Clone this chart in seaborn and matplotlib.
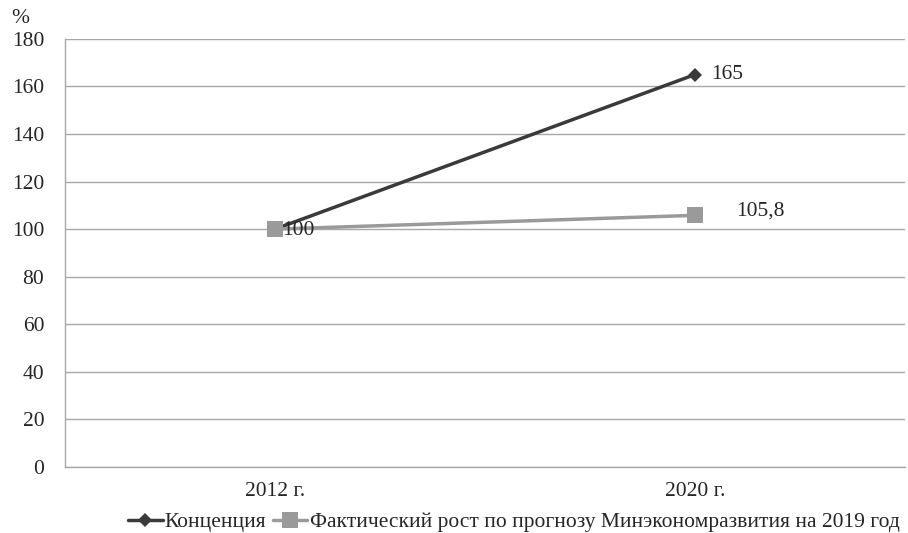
import seaborn as sns
import matplotlib
matplotlib.use("Agg")
import matplotlib.pyplot as plt
from matplotlib.lines import Line2D
import pandas as pd

years = ["2012 г.", "2020 г."]
concept = [100, 165]
actual = [100, 105.8]
labels_concept = ["", "165"]
labels_actual = ["100", "105,8"]
name_concept = "Конценция"
name_actual = "Фактический рост по прогнозу Минэкономразвития на 2019 год"

df = pd.DataFrame({
    "year": years * 2,
    "value": concept + actual,
    "series": [name_concept] * 2 + [name_actual] * 2,
})

sns.set_style("white")
plt.rcParams["font.family"] = ["Liberation Serif", "DejaVu Serif"]
fs = 15.5

fig = plt.figure(figsize=(9.08, 5.33), dpi=100)
ax = fig.add_axes([0.0716, 0.124, 0.925, 0.803])

colors = {name_concept: "#3a3a3a", name_actual: "#9a9a9a"}
sns.lineplot(data=df[df.series == name_concept], x="year", y="value", color=colors[name_concept],
             marker="D", markersize=7, linewidth=2.5, markeredgewidth=0, ax=ax, legend=False)
sns.lineplot(data=df[df.series == name_actual], x="year", y="value", color=colors[name_actual],
             marker="s", markersize=12, linewidth=2.5, markeredgewidth=0, ax=ax, legend=False)

ax.set_xlim(-0.5, 1.5)
ax.set_ylim(0, 180)
ax.set_yticks(range(0, 181, 20))
ax.yaxis.grid(True, color="#a8a8a8", linewidth=1)
ax.set_axisbelow(True)
ax.set_xticks([0, 1])
ax.set_xticklabels(years)
ax.set_xticks([-0.5, 0.5, 1.5], minor=True)
ax.tick_params(axis="x", which="major", length=0, pad=11, labelsize=fs)
ax.tick_params(axis="x", which="minor", length=6, color="#a8a8a8", width=1)
ax.tick_params(axis="y", length=6, color="#a8a8a8", width=1, labelsize=fs, pad=9)
for s in ["top", "right"]:
    ax.spines[s].set_visible(False)
for s in ["left", "bottom"]:
    ax.spines[s].set_color("#a8a8a8")
    ax.spines[s].set_linewidth(1)
ax.set_xlabel("")
ax.set_ylabel("")

# data labels
ax.annotate(labels_actual[0], (0, actual[0]), xytext=(5, -1), textcoords="offset points",
            ha="left", va="center", fontsize=fs)
ax.annotate(labels_concept[1], (1, concept[1]), xytext=(12, 0), textcoords="offset points",
            ha="left", va="center", fontsize=fs)
ax.annotate(labels_actual[1], (1, actual[1]), xytext=(30, 3), textcoords="offset points",
            ha="left", va="center", fontsize=fs)

fig.text(0.012, 0.965, "%", fontsize=fs, ha="left", va="center")

handles = [
    Line2D([], [], color=colors[name_concept], marker="D", markersize=7, linewidth=2.5, markeredgewidth=0),
    Line2D([], [], color=colors[name_actual], marker="s", markersize=11, linewidth=2.5, markeredgewidth=0),
]
fig.legend(handles, [name_concept, name_actual], loc="center right", bbox_to_anchor=(1.0, 0.02),
           ncol=2, frameon=False, fontsize=fs, handlelength=1.6, handletextpad=0.1,
           columnspacing=0.3, borderaxespad=0)

fig.savefig("out.png", dpi=100)
